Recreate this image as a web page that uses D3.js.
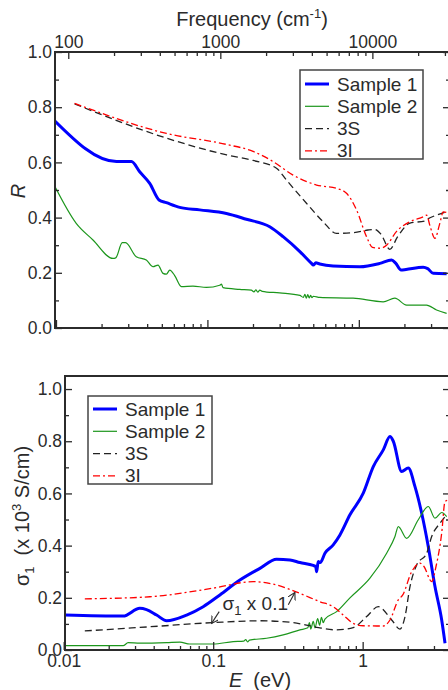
<!DOCTYPE html>
<html>
<head>
<meta charset="utf-8">
<script src="https://cdn.jsdelivr.net/npm/d3@7"></script>
<style>
  body { margin: 0; background: #fff; }
  svg { display: block; font-family: "Liberation Sans", Arial, Helvetica, sans-serif; }
</style>
</head>
<body>
<svg id="chart" width="448" height="690"></svg>
<script>
// ---- reflectivity R vs photon energy (eV) ----
const rSample1 = [[0.0098,0.751],[0.0251,0.603],[0.0315,0.603],[0.0357,0.566],[0.0416,0.524],[0.0479,0.464],
  [0.0536,0.454],[0.0656,0.437],[0.089,0.428],[0.1336,0.415],[0.181,0.394],[0.258,0.367],[0.316,0.331],
  [0.408,0.277],[0.487,0.234],[0.50,0.228],[0.52,0.236],[0.552,0.232],[0.676,0.225],[1.015,0.222],
  [1.377,0.234],[1.645,0.246],[1.75,0.235],[1.90,0.21],[2.05,0.212],[2.66,0.22],[2.85,0.215],[3.10,0.198],[3.80,0.197]];
const rSample2 = [[0.0098,0.514],[0.0136,0.379],[0.01755,0.319],[0.0238,0.252],[0.0248,0.254],[0.0274,0.309],
  [0.0288,0.309],[0.0339,0.258],[0.0395,0.246],[0.0437,0.222],[0.0472,0.228],[0.0509,0.198],[0.0536,0.195],
  [0.0564,0.21],[0.0608,0.19],[0.0673,0.150],[0.0803,0.152],[0.0985,0.147],[0.1206,0.155],[0.1238,0.159],
  [0.1268,0.146],[0.1634,0.140],[0.195,0.137],[0.203,0.131],[0.209,0.138],[0.215,0.130],[0.222,0.137],
  [0.23,0.133],[0.30,0.127],[0.408,0.118],[0.43,0.111],[0.44,0.122],[0.45,0.108],[0.46,0.121],[0.47,0.109],
  [0.48,0.118],[0.49,0.11],[0.50,0.115],[0.552,0.111],[0.917,0.108],[1.448,0.095],[1.729,0.108],[2.067,0.083],
  [2.80,0.083],[3.26,0.065],[3.80,0.053]];
const r3S = [[0.01327,0.812],[0.0536,0.688],[0.134,0.627],[0.2,0.607],[0.2858,0.579],[0.3327,0.536],[0.451,0.452],
  [0.5808,0.385],[0.712,0.343],[0.917,0.345],[1.15,0.355],[1.27,0.357],[1.40,0.34],[1.603,0.285],[1.80,0.33],
  [2.174,0.380],[2.73,0.388],[2.85,0.395],[3.263,0.409],[3.8,0.421]];
const r3I = [[0.01327,0.814],[0.0536,0.705],[0.134,0.665],[0.2001,0.640],[0.2715,0.603],[0.368,0.554],[0.5254,0.518],
  [0.712,0.506],[0.829,0.488],[0.9656,0.428],[1.124,0.331],[1.23,0.292],[1.376,0.289],[1.524,0.30],[1.775,0.35],
  [2.174,0.385],[2.661,0.403],[2.803,0.409],[2.95,0.37],[3.18,0.325],[3.43,0.38],[3.608,0.421],[3.95,0.415]];

// ---- optical conductivity sigma1 (x10^3 S/cm) vs energy (eV) ----
const sSample1 = [[0.01017,0.134],[0.02497,0.130],[0.0323,0.160],[0.0358,0.155],[0.0418,0.134],[0.0488,0.112],
  [0.0664,0.134],[0.0857,0.166],[0.1109,0.211],[0.1509,0.268],[0.2054,0.313],[0.2657,0.348],[0.3262,0.345],
  [0.3804,0.335],[0.467,0.324],[0.485,0.32],[0.4922,0.30],[0.5044,0.339],[0.52,0.335],[0.5593,0.371],
  [0.6356,0.403],[0.7047,0.441],[0.8222,0.518],[1.0093,0.601],[1.178,0.703],[1.374,0.767],[1.523,0.818],
  [1.603,0.80],[1.824,0.684],[2.02,0.697],[2.239,0.626],[2.483,0.524],[2.749,0.396],[3.047,0.243],
  [3.379,0.115],[3.556,0.026]];
const sSample2 = [[0.01017,0.0165],[0.02497,0.0165],[0.02698,0.028],[0.0323,0.026],[0.0488,0.028],[0.0599,0.030],
  [0.0698,0.023],[0.1,0.023],[0.1361,0.032],[0.16,0.034],[0.165,0.040],[0.17,0.031],[0.175,0.038],[0.2277,0.045],
  [0.294,0.058],[0.3804,0.077],[0.43,0.085],[0.44,0.105],[0.45,0.080],[0.467,0.110],[0.48,0.085],[0.50,0.120],
  [0.515,0.095],[0.53,0.125],[0.545,0.105],[0.5593,0.118],[0.6698,0.147],[0.8222,0.200],[1.119,0.275],
  [1.447,0.371],[1.645,0.435],[1.731,0.473],[1.971,0.428],[2.356,0.499],[2.749,0.55],[3.047,0.505],
  [3.379,0.527],[3.65,0.511]];
const s3S = [[0.01384,0.073],[0.0377,0.089],[0.1,0.105],[0.2054,0.112],[0.343,0.105],[0.4922,0.087],[0.6698,0.077],
  [0.865,0.086],[1.064,0.128],[1.272,0.166],[1.564,0.115],[1.777,0.08],[1.92,0.128],[2.073,0.243],[2.298,0.326],
  [2.682,0.371],[2.896,0.435],[3.291,0.486],[3.556,0.511]];
const s3I = [[0.01384,0.196],[0.0377,0.204],[0.1,0.237],[0.1852,0.262],[0.2657,0.249],[0.3804,0.217],[0.5177,0.185],
  [0.6356,0.166],[0.7416,0.134],[0.865,0.102],[1.0093,0.093],[1.241,0.092],[1.374,0.092],[1.523,0.115],
  [1.731,0.192],[1.85,0.21],[2.128,0.300],[2.418,0.333],[2.572,0.32],[2.896,0.262],[3.095,0.32],[3.379,0.448],
  [3.556,0.569],[3.75,0.575]];

// axis ranges and ticks
const eDomainR = [0.00985, 4.0];
const fDomain = [81.8, 32400];
const eDomainS = [0.0102, 3.84];
const rDomain = [0, 1];
const sDomain = [0, 1.05];
const yMajor = [0, 0.2, 0.4, 0.6, 0.8, 1.0];
const yMinor = [0.1, 0.3, 0.5, 0.7, 0.9];
const eMajor = [0.01, 0.1, 1];
const eMinor = [0.02,0.03,0.04,0.05,0.06,0.07,0.08,0.09,0.2,0.3,0.4,0.5,0.6,0.7,0.8,0.9,2,3];
const fMajor = [100, 1000, 10000];
const fMinor = [200,300,400,500,600,700,800,900,2000,3000,4000,5000,6000,7000,8000,9000,20000,30000];
const seriesNames = ["Sample 1", "Sample 2", "3S", "3I"];

const ink = "#2b2b2b";
const svg = d3.select("#chart");

// plot boxes (right edge runs just past the window, as in the figure)
const pR = { left: 55, right: 450, top: 52, bottom: 328 };
const pS = { left: 65, right: 450, top: 376, bottom: 650 };

const xR = d3.scaleLog().domain(eDomainR).range([pR.left, pR.right]);
const xF = d3.scaleLog().domain(fDomain).range([pR.left, pR.right]);
const yR = d3.scaleLinear().domain(rDomain).range([pR.bottom, pR.top]);
const xS = d3.scaleLog().domain(eDomainS).range([pS.left, pS.right]);
const yS = d3.scaleLinear().domain(sDomain).range([pS.bottom, pS.top]);

const styles = [
  { color: "#0000ff", width: 3,   dash: null },
  { color: "#1c961c", width: 1.2, dash: null },
  { color: "#222",    width: 1.3, dash: "7,4" },
  { color: "#ff0000", width: 1.3, dash: "7,3,2,3" }
];

// draw one axis (ticks only, inward), removing d3's domain path
function ticks(axisFn, scale, values, size, fmt, tx, ty, pad) {
  svg.append("g")
    .attr("transform", `translate(${tx},${ty})`)
    .call(axisFn(scale).tickValues(values).tickSize(size).tickSizeOuter(0)
      .tickPadding(pad || 3).tickFormat(fmt))
    .attr("font-family", null)
    .attr("font-size", 17.5)
    .call(g => g.select(".domain").remove())
    .call(g => g.selectAll("line").attr("stroke", ink).attr("stroke-width", 1.3))
    .call(g => g.selectAll("text").attr("fill", ink));
}
const none = () => "";
const f1 = d3.format(".1f");

function frame(p) {
  svg.append("rect")
    .attr("x", p.left).attr("y", p.top)
    .attr("width", p.right - p.left).attr("height", p.bottom - p.top)
    .attr("fill", "none").attr("stroke", ink).attr("stroke-width", 2);
}

function drawLines(p, id, x, y, sets) {
  svg.append("clipPath").attr("id", id)
    .append("rect").attr("x", p.left).attr("y", p.top)
    .attr("width", p.right - p.left).attr("height", p.bottom - p.top);
  const g = svg.append("g").attr("clip-path", `url(#${id})`);
  const line = d3.line().x(d => x(d[0])).y(d => y(d[1])).curve(d3.curveMonotoneX);
  sets.forEach((data, i) => {
    g.append("path")
      .datum(data)
      .attr("fill", "none")
      .attr("stroke", styles[i].color)
      .attr("stroke-width", styles[i].width)
      .attr("stroke-dasharray", styles[i].dash)
      .attr("stroke-linejoin", "round")
      .attr("d", line);
  });
}

function legend(x0, y0, w, h, row0, step) {
  const g = svg.append("g");
  g.append("rect").attr("x", x0).attr("y", y0).attr("width", w).attr("height", h)
    .attr("fill", "#fff").attr("stroke", "#444").attr("stroke-width", 1.5);
  seriesNames.forEach((name, i) => {
    const cy = row0 + i * step;
    g.append("line")
      .attr("x1", x0 + 5).attr("x2", x0 + 29).attr("y1", cy).attr("y2", cy)
      .attr("stroke", styles[i].color)
      .attr("stroke-width", styles[i].width)
      .attr("stroke-dasharray", styles[i].dash);
    g.append("text")
      .attr("x", x0 + 37).attr("y", cy)
      .attr("dominant-baseline", "central")
      .attr("font-size", 19).attr("fill", ink)
      .text(name);
  });
}

// ===== upper panel: R =====
drawLines(pR, "clipR", xR, yR, [rSample1, rSample2, r3S, r3I]);
frame(pR);
ticks(d3.axisLeft, yR, yMajor, -7, f1, pR.left, 0);
ticks(d3.axisLeft, yR, yMinor, -4, none, pR.left, 0);
ticks(d3.axisRight, yR, yMajor, -7, none, pR.right, 0);
ticks(d3.axisRight, yR, yMinor, -4, none, pR.right, 0);
ticks(d3.axisBottom, xR, eMajor, -8, none, 0, pR.bottom);
ticks(d3.axisBottom, xR, eMinor, -4, none, 0, pR.bottom);
ticks(d3.axisTop, xF, fMajor, -7, d3.format("d"), 0, pR.top, 4);
ticks(d3.axisTop, xF, fMinor, -4, none, 0, pR.top);

const fTitle = svg.append("text")
  .attr("x", 252).attr("y", 26)
  .attr("text-anchor", "middle")
  .attr("font-size", 20).attr("fill", ink);
fTitle.append("tspan").text("Frequency (cm");
fTitle.append("tspan").attr("font-size", 13).attr("dy", -8).text("-1");
fTitle.append("tspan").attr("dy", 8).text(")");

svg.append("text")
  .attr("transform", `translate(25,${(pR.top + pR.bottom) / 2 + 1}) rotate(-90)`)
  .attr("text-anchor", "middle")
  .attr("font-size", 20).attr("font-style", "italic").attr("fill", ink)
  .text("R");

legend(300, 70, 123, 89, 84, 22.3);

// ===== lower panel: sigma1 =====
drawLines(pS, "clipS", xS, yS, [sSample1, sSample2, s3S, s3I]);
frame(pS);
ticks(d3.axisLeft, yS, yMajor, -7, f1, pS.left, 0);
ticks(d3.axisLeft, yS, yMinor, -4, none, pS.left, 0);
ticks(d3.axisRight, yS, yMajor, -7, none, pS.right, 0);
ticks(d3.axisRight, yS, yMinor, -4, none, pS.right, 0);
ticks(d3.axisBottom, xS, eMajor, -8, d => d3.format("")(d), 0, pS.bottom, 5);
ticks(d3.axisBottom, xS, eMinor, -4, none, 0, pS.bottom);

const eTitle = svg.append("text")
  .attr("x", 260).attr("y", 687)
  .attr("text-anchor", "middle")
  .attr("font-size", 20).attr("fill", ink);
eTitle.append("tspan").attr("font-style", "italic").text("E");
eTitle.append("tspan").text("\u00a0\u00a0(eV)");

const sTitle = svg.append("text")
  .attr("transform", `translate(29,516) rotate(-90)`)
  .attr("text-anchor", "middle")
  .attr("font-size", 20).attr("fill", ink);
sTitle.append("tspan").text("\u03c3");
sTitle.append("tspan").attr("font-size", 13).attr("dy", 5).text("1");
sTitle.append("tspan").attr("dy", -5).text("\u00a0\u00a0(x 10");
sTitle.append("tspan").attr("font-size", 13).attr("dy", -8).text("3");
sTitle.append("tspan").attr("dy", 8).text(" S/cm)");

legend(88, 396, 124, 88, 409, 22.3);

// annotation: the model curves are scaled by 0.1
const noteAt = [0.1156, 0.153];
const noteArrows = [[[0.1097, 0.147], [0.0976, 0.102]], [[0.318, 0.173], [0.352, 0.22]]];

svg.append("defs").append("marker")
  .attr("id", "arrow").attr("markerUnits", "userSpaceOnUse")
  .attr("markerWidth", 10).attr("markerHeight", 10)
  .attr("refX", 7).attr("refY", 4).attr("orient", "auto")
  .append("path").attr("d", "M0,0 L7,4 L0,8")
  .attr("fill", "none").attr("stroke", ink).attr("stroke-width", 1.1);

const note = svg.append("text")
  .attr("x", xS(noteAt[0])).attr("y", yS(noteAt[1]))
  .attr("font-size", 19).attr("fill", ink);
note.append("tspan").text("\u03c3");
note.append("tspan").attr("font-size", 13).attr("dy", 5).text("1");
note.append("tspan").attr("dy", -5).text(" x 0.1");

noteArrows.forEach(([from, to]) => {
  svg.append("line")
    .attr("x1", xS(from[0])).attr("y1", yS(from[1]))
    .attr("x2", xS(to[0])).attr("y2", yS(to[1]))
    .attr("stroke", ink).attr("stroke-width", 1.1)
    .attr("marker-end", "url(#arrow)");
});
</script>
</body>
</html>
